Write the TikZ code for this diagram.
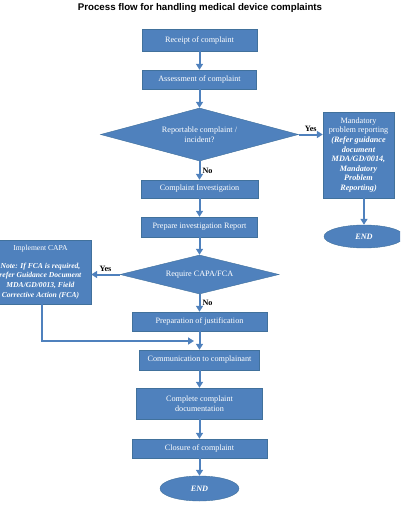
\documentclass[tikz,border=0pt]{standalone}
\usepackage{fontspec}
\setmainfont{Liberation Serif}
\newfontfamily\titlefont{Liberation Sans}
\usetikzlibrary{shapes.geometric,arrows.meta}
\definecolor{boxblue}{HTML}{4F81BD}
\definecolor{boxedge}{HTML}{41719C}
\begin{document}
\begin{tikzpicture}[x=1pt,y=-1pt,
                box/.style={draw=boxedge,fill=boxblue,text=white,inner sep=0pt,align=center,font=\fontsize{8.2}{9.6}\selectfont},
                decision/.style={box,diamond,aspect=4},
                terminal/.style={box,ellipse},
                flow/.style={draw=boxblue,line width=2pt,-{Triangle[length=6pt,width=7pt]}},
                answer/.style={inner sep=2pt,font=\fontsize{8.2}{9.6}\selectfont\bfseries}]
                \clip (0,0) rectangle (400,516);
                \node[font=\titlefont\fontsize{9.7}{11}\selectfont\bfseries] (title) at (200,8) {Process flow for handling medical device complaints};
                \node[box,minimum width=115pt,minimum height=22pt] (receipt) at (199.5,40) {Receipt of complaint};
                \node[box,minimum width=114pt,minimum height=19pt] (assess) at (199.5,79.5) {Assessment of complaint};
                \node[decision,minimum width=198pt,minimum height=53pt] (report) at (199.5,134.5) {Reportable complaint /\\incident?};
                \node[box,minimum width=71pt,minimum height=86pt] (mand) at (358.5,155) {Mandatory\\problem reporting\\\textbf{\textit{(Refer guidance}}\\\textbf{\textit{document}}\\\textbf{\textit{MDA/GD/0014,}}\\\textbf{\textit{Mandatory}}\\\textbf{\textit{Problem}}\\\textbf{\textit{Reporting)}}};
                \node[terminal,minimum width=80pt,minimum height=23pt] (endR) at (364,236.5) {\textbf{\textit{END}}};
                \node[box,minimum width=117pt,minimum height=18pt] (invest) at (199.5,189) {Complaint Investigation};
                \node[box,minimum width=116pt,minimum height=20pt] (prepare) at (199.5,227) {Prepare investigation Report};
                \node[decision,minimum width=159pt,minimum height=39pt] (capa) at (199.5,274.5) {Require CAPA/FCA};
                \node[box,minimum width=101pt,minimum height=64pt,font=\fontsize{7.6}{9.6}\selectfont] (impl) at (40.5,272) {Implement CAPA\\[8pt]\textbf{\textit{Note: If FCA is required,}}\\\textbf{\textit{refer Guidance Document}}\\\textbf{\textit{MDA/GD/0013, Field}}\\\textbf{\textit{Corrective Action (FCA)}}};
                \node[box,minimum width=135pt,minimum height=19pt] (justif) at (199.5,321.5) {Preparation of justification};
                \node[box,minimum width=120pt,minimum height=20pt] (comm) at (199.5,360) {Communication to complainant};
                \node[box,minimum width=126pt,minimum height=31pt] (docu) at (199.5,403.5) {Complete complaint\\documentation};
                \node[box,minimum width=135pt,minimum height=19pt] (closure) at (199.5,448.5) {Closure of complaint};
                \node[terminal,minimum width=79pt,minimum height=25pt] (endM) at (199.5,488.5) {\textbf{\textit{END}}};
                \coordinate (bend) at (42,341);
                \coordinate (joinpt) at (194,341);
                \draw[flow] (receipt) -- (assess);
                \draw[flow] (assess) -- (report);
                \draw[flow] (report.east) -- node[answer,above] {Yes} (report.east -| mand.west);
                \draw[flow] (mand.south -| endR) -- (endR);
                \draw[flow] (report) -- node[answer,right] {No} (invest);
                \draw[flow] (invest) -- (prepare);
                \draw[flow] (prepare) -- (capa);
                \draw[flow] (capa.west) -- node[answer,above] {Yes} (capa.west -| impl.east);
                \draw[flow] (capa) -- node[answer,right] {No} (justif);
                \draw[flow] (justif) -- (comm);
                \draw[flow] (impl.south -| bend) |- (joinpt);
                \draw[flow] (comm) -- (docu);
                \draw[flow] (docu) -- (closure);
                \draw[flow] (closure) -- (endM);
            \end{tikzpicture}
\end{document}
